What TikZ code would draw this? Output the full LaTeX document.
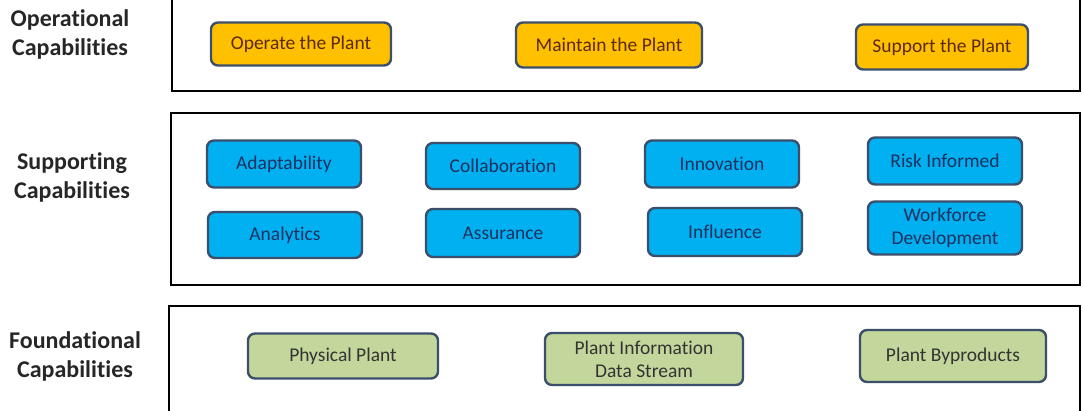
\documentclass[tikz,border=0pt]{standalone}
\usepackage{fontspec}
\setmainfont[Ligatures=NoCommon]{Carlito}
\usetikzlibrary{positioning}
\definecolor{op-gold}{HTML}{FFC000}
\definecolor{sup-blue}{HTML}{00B0F0}
\definecolor{fnd-green}{HTML}{C3D69B}
\definecolor{box-edge}{HTML}{3B4F6B}
\definecolor{txt-navy}{HTML}{1F3060}
\definecolor{txt-brown}{HTML}{5C2A10}

\begin{document}
\begin{tikzpicture}[x=1pt, y=-1pt,
	   panel/.style={draw, line width=2.8pt},
	   lbl/.style={font=\fontsize{24}{29}\selectfont\bfseries, align=center, text=black!85},
	   capbox/.style={draw=box-edge, line width=2.4pt, rounded corners=7pt, align=center,
	      inner sep=0pt, font=\fontsize{19.5}{23}\selectfont},
	   o/.style={capbox, fill=op-gold, text=txt-brown},
	   b/.style={capbox, fill=sup-blue, text=txt-navy, minimum width=154pt},
	   g/.style={capbox, fill=fnd-green, text=black!80}]
	  \useasboundingbox (0,0) rectangle (1083,411);
	  % panels
	  \draw[panel] (172,-4) rectangle (1080,91);
	  \draw[panel] (171,113) rectangle (1080,285);
	  \draw[panel] (169,306) rectangle (1080,416);
	  \node[lbl] (opLbl) at (70,34) {Operational\\Capabilities};
	  \node[lbl] (supLbl) at (72,177) {Supporting\\Capabilities};
	  \node[lbl] (fndLbl) at (75,356) {Foundational\\Capabilities};
	  % operational
	  \node[o, minimum width=180pt, minimum height=43pt] (operate) at (301,44) {Operate the Plant};
	  \node[o, minimum width=186pt, minimum height=45pt] (maintain) at (609,45) {Maintain the Plant};
	  \node[o, minimum width=172pt, minimum height=45pt] (support) at (942,47) {Support the Plant};
	  % supporting
	  \node[b, minimum height=47pt] (adapt) at (284,164) {Adaptability};
	  \node[b, minimum height=46pt] (collab) at (503,166) {Collaboration};
	  \node[b, minimum height=47pt] (innov) at (722,164) {Innovation};
	  \node[b, minimum height=47pt] (risk) at (945,161) {Risk Informed};
	  \node[b, minimum height=46pt] (analyt) at (285,235) {Analytics};
	  \node[b, minimum height=48pt] (assur) at (503,233) {Assurance};
	  \node[b, minimum height=48pt] (influ) at (725,232) {Influence};
	  \node[b, minimum height=53pt] (workf) at (945,228) {Workforce\\Development};
	  % foundational
	  \node[g, minimum width=190pt, minimum height=45pt] (phys) at (343,356) {Physical Plant};
	  \node[g, minimum width=198pt, minimum height=52pt] (info) at (644,359) {Plant Information\\Data Stream};
	  \node[g, minimum width=186pt, minimum height=52pt] (byprod) at (953,356) {Plant Byproducts};
	\end{tikzpicture}
\end{document}
